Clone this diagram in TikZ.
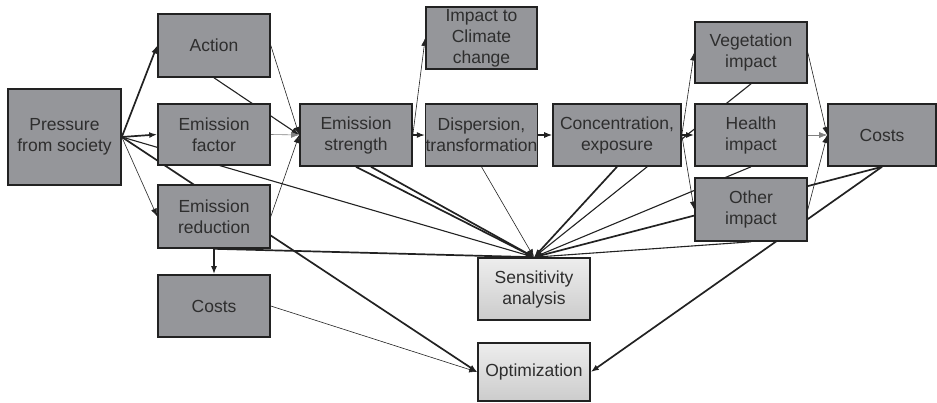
\documentclass[tikz,border=0pt]{standalone}
\usepackage{fontspec}
\setmainfont{Liberation Sans}
\usetikzlibrary{arrows.meta,backgrounds}

\definecolor{boxgray}{HTML}{95969A}
\definecolor{textgray}{HTML}{2E2E2E}
\definecolor{linegray}{HTML}{222222}

\tikzset{
  block/.style={rectangle, draw=linegray, line width=1.6pt, fill=boxgray, text=textgray,
    align=center, inner sep=0pt, minimum width=112pt, minimum height=62pt,
    font=\fontsize{17.5pt}{21pt}\selectfont},
  result/.style={block, top color=white!93!black, bottom color=white!80!black},
  thinlink/.style={draw=linegray, line width=0.6pt},
  midlink/.style={draw=linegray, line width=1.1pt},
  heavylink/.style={draw=linegray, line width=1.7pt},
  arr/.style={-{Latex[length=8pt,width=6pt]}},
}

\begin{document}
\begin{tikzpicture}[x=1pt, y=-1pt]

\useasboundingbox (0,0) rectangle (937,402);

% left column
\draw (64.5,137) node (pressure) [block, minimum width=113pt, minimum height=96pt] {Pressure\\from society};
\draw (214,45.5) node (action) [block, minimum height=63pt] {Action};
\draw (214,134.5) node (factor) [block, minimum height=61pt] {Emission\\factor};
\draw (214,216.5) node (reduction) [block, minimum height=63pt] {Emission\\reduction};
\draw (214,306) node (costsA) [block] {Costs};

% chain
\draw (356,135) node (strength) [block] {Emission\\strength};
\draw (481.5,38) node (climate) [block, minimum width=111pt] {Impact to\\Climate\\change};
\draw (481.5,135) node (dispersion) [block, minimum width=111pt] {Dispersion,\\transformation};
\draw (617,135) node (concentration) [block, minimum width=128pt] {Concentration,\\exposure};

% impacts
\draw (751,52.5) node (vegetation) [block, minimum height=61pt] {Vegetation\\impact};
\draw (751,135) node (health) [block] {Health\\impact};
\draw (751,209.5) node (other) [block, minimum height=63pt] {Other\\impact};
\draw (882,135) node (costsB) [block, minimum width=108pt] {Costs};

% results
\draw (534,289) node (sensitivity) [result] {Sensitivity\\analysis};
\draw (534,372) node (optimization) [result, minimum height=58pt] {Optimization};

\begin{pgfonlayer}{background}
\draw [arr, heavylink] (pressure.east) -- (action.west);
\draw [arr, heavylink] (pressure.east) -- (factor.west);
\draw [arr, thinlink] (pressure.east) -- (reduction.west);
\draw [arr, midlink] (pressure.east) -- (sensitivity.north);
\draw [arr, heavylink] (pressure.east) -- (optimization.west);

\draw [arr, thinlink] (action.east) -- (strength.west);
\draw [arr, midlink] (action.south) -- (strength.west);
\draw [arr, thinlink, draw=gray] (factor.east) -- (strength.west);
\draw [arr, thinlink] (reduction.east) -- (strength.west);

\draw [arr, heavylink] (reduction.south) -- (costsA.north);
\draw [arr, heavylink] (reduction.south) -- (sensitivity.north);
\draw [arr, thinlink] (costsA.east) -- (optimization.west);

\draw [arr, thinlink] (strength.east) -- (climate.west);
\draw [arr, midlink] (strength.east) -- (dispersion.west);
\draw [arr, heavylink] (strength.south) -- (sensitivity.north);
\draw [arr, heavylink] ([xshift=15pt]strength.south) -- (sensitivity.north);

\draw [arr, thinlink] (dispersion.south) -- (sensitivity.north);
\draw [arr, midlink] (dispersion.east) -- (concentration.west);

\draw [arr, heavylink] (concentration.south) -- (sensitivity.north);
\draw [arr, thinlink] (concentration.east) -- (vegetation.west);
\draw [arr, heavylink] (concentration.east) -- (health.west);
\draw [arr, thinlink] (concentration.east) -- (other.west);

\draw [arr, midlink] (vegetation.south) -- (sensitivity.north);
\draw [arr, midlink] (health.south) -- (sensitivity.north);
\draw [arr, midlink] (other.south) -- (sensitivity.north);

\draw [arr, thinlink] (vegetation.east) -- (costsB.west);
\draw [arr, thinlink, draw=gray] (health.east) -- (costsB.west);
\draw [arr, thinlink] (other.east) -- (costsB.west);

\draw [arr, heavylink] (costsB.south) -- (sensitivity.north);
\draw [arr, heavylink] (costsB.south) -- (optimization.east);
\end{pgfonlayer}

\end{tikzpicture}
\end{document}
